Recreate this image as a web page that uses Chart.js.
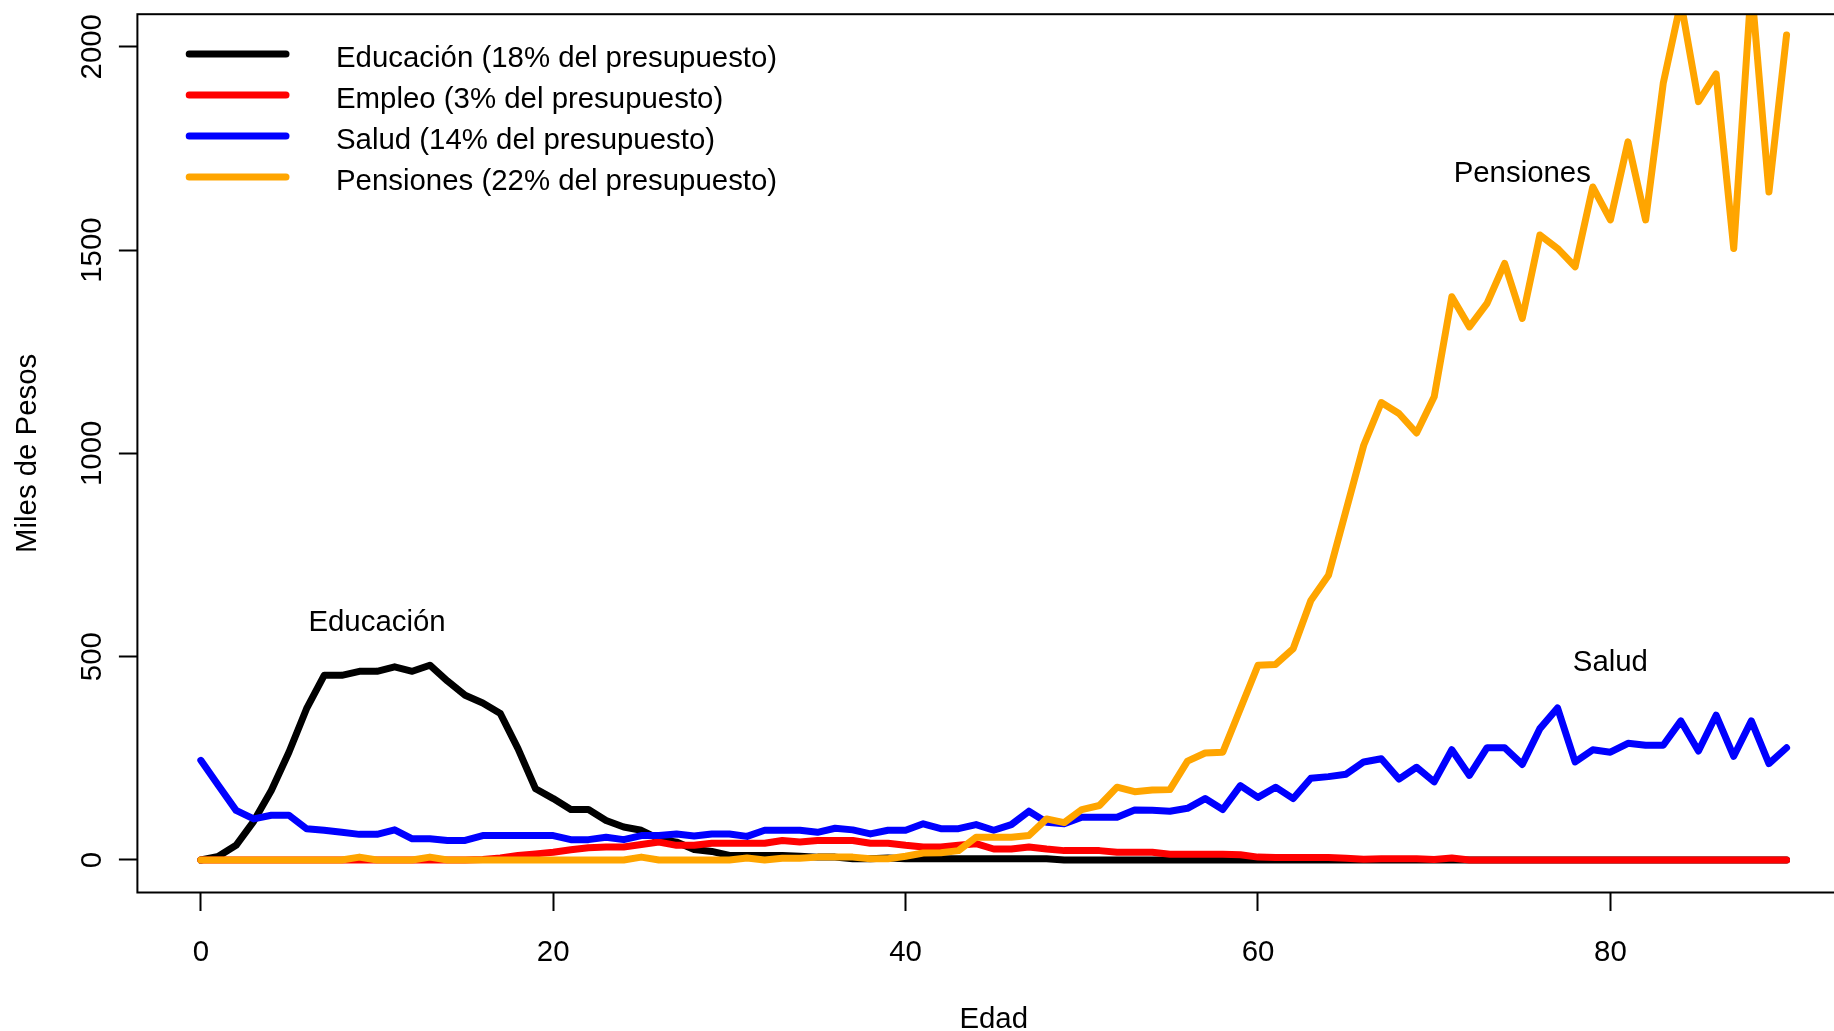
<!DOCTYPE html>
<html><head><meta charset="utf-8">
<script src="https://cdn.jsdelivr.net/npm/chart.js@4"></script>
<style>
html,body{margin:0;padding:0;background:#fff;overflow:hidden;width:1834px;height:1031px}
#wrap{position:absolute;left:0;top:0;width:1860px;height:1031px}
</style>
</head><body><div id="wrap"><canvas id="c" width="1860" height="1031"></canvas></div>
<script>
// ---- data ----
const ages = [0,1,2,3,4,5,6,7,8,9,10,11,12,13,14,15,16,17,18,19,20,21,22,23,24,25,26,27,28,29,30,
  31,32,33,34,35,36,37,38,39,40,41,42,43,44,45,46,47,48,49,50,51,52,53,54,55,56,57,58,59,60,
  61,62,63,64,65,66,67,68,69,70,71,72,73,74,75,76,77,78,79,80,81,82,83,84,85,86,87,88,89,90];

const educacion = [0,9,36,95,171,265,372,454,454,464,464,475,464,479,440,405,386,360,274,175,151,
  124,124,97,81,73,52,44,26,21,11,11,11,11,9,7,7,3,3,5,3,3,3,3,3,3,3,3,3,0,0,
  0,0,0,0,0,0,0,0,0,0,0,0,0,0,0,0,0,0,0,0,0,0,0,0,0,0,0,0,0,0,0,0,0,0,0,0,0,0,0,0];

const empleo = [0,0,0,0,0,0,0,0,0,0,0,0,0,0,0,0,1,5,11,15,19,25,30,32,32,38,44,36,36,41,41,
  41,41,48,44,48,48,48,41,41,36,32,32,36,40,27,27,32,27,23,23,23,19,19,19,14,14,14,14,13,7,
  6,6,6,6,4,2,3,3,3,1,5,0,0,0,0,0,0,0,0,0,0,0,0,0,0,0,0,0,0,0];

const salud = [245,183,122,101,110,110,77,73,68,63,63,74,52,52,48,48,60,60,60,60,60,50,50,56,50,60,
  60,64,59,64,64,58,73,73,73,68,78,74,64,73,73,89,77,77,87,73,87,120,93,89,105,105,105,123,122,120,
  127,151,124,183,154,179,151,201,205,211,241,249,199,228,192,271,208,276,276,235,323,374,241,271,
  265,287,282,282,342,268,356,255,342,237,276];

const pensiones = [0,0,0,0,0,0,0,0,0,7,0,0,0,7,0,0,0,0,0,0,0,0,0,0,0,7,0,0,0,0,0,
  5,0,4,4,7,7,7,3,3,9,17,18,23,56,56,56,60,101,92,124,134,179,168,172,173,243,263,265,372,479,
  481,520,638,700,860,1020,1125,1098,1050,1139,1385,1311,1369,1467,1332,1537,1504,1459,1655,1574,
  1766,1574,1910,2110,1865,1933,1504,2150,1643,2029];

const seriesNames = ['Educación (18% del presupuesto)','Empleo (3% del presupuesto)',
  'Salud (14% del presupuesto)','Pensiones (22% del presupuesto)'];
const seriesColors = ['#000000','#FF0000','#0000FF','#FFA500'];

const xTickValues = [0,20,40,60,80];
const xTickLabels = ['0','20','40','60','80'];
const yTickValues = [0,500,1000,1500,2000];
const yTickLabels = ['0','500','1000','1500','2000'];

const annotText = ['Educación','Pensiones','Salud'];
const annotX = [10,75,80];
const annotY = [584,1687,485];

const xTitle = 'Edad';
const yTitle = 'Miles de Pesos';
// ---------------------------------------

const FONT = '"Liberation Sans", Arial, Helvetica, sans-serif';
const FS = 29.4;
const LW = 7;

function pts(vals){ return ages.map((a,i)=>({x:a, y:vals[i]})); }
const allSeries = [educacion, empleo, salud, pensiones];

const datasets = allSeries.map((s,i)=>({
  label: seriesNames[i],
  data: pts(s),
  borderColor: seriesColors[i],
  backgroundColor: seriesColors[i],
  borderWidth: LW,
  pointRadius: 0,
  pointHoverRadius: 0,
  tension: 0,
  fill: false,
  borderJoinStyle: 'round',
  borderCapStyle: 'round',
  clip: 0,
  order: 4 - i
}));

const framePlugin = {
  id: 'frame',
  afterDatasetsDraw(chart){
    const {ctx, chartArea:a} = chart;
    ctx.save();
    ctx.strokeStyle = '#000';
    ctx.lineWidth = 2;
    ctx.strokeRect(a.left, a.top, a.right - a.left, a.bottom - a.top);
    ctx.restore();
  }
};

const annotPlugin = {
  id: 'annot',
  afterDatasetsDraw(chart){
    const {ctx, scales} = chart;
    ctx.save();
    ctx.font = FS + 'px ' + FONT;
    ctx.fillStyle = '#000';
    ctx.textAlign = 'center';
    ctx.textBaseline = 'middle';
    annotText.forEach((t,i)=>{
      ctx.fillText(t, scales.x.getPixelForValue(annotX[i]), scales.y.getPixelForValue(annotY[i]));
    });
    ctx.restore();
  }
};

const legendPlugin = {
  id: 'rlegend',
  afterDatasetsDraw(chart){
    const {ctx} = chart;
    ctx.save();
    ctx.font = FS + 'px ' + FONT;
    ctx.textAlign = 'left';
    ctx.textBaseline = 'middle';
    chart.data.datasets.forEach((d,i)=>{
      const yl = 54 + 41*i;
      ctx.strokeStyle = d.borderColor;
      ctx.lineWidth = d.borderWidth;
      ctx.lineCap = 'round';
      ctx.beginPath();
      ctx.moveTo(189.2, yl);
      ctx.lineTo(286, yl);
      ctx.stroke();
      ctx.fillStyle = '#000';
      ctx.fillText(d.label, 336, yl + 5);
    });
    ctx.restore();
  }
};

new Chart(document.getElementById('c'), {
  type: 'line',
  data: { datasets },
  options: {
    responsive: false,
    animation: false,
    devicePixelRatio: 1,
    layout: { padding: { left: 0, top: 14.2, right: 10, bottom: 0 } },
    plugins: { legend: { display: false }, tooltip: { enabled: false } },
    events: [],
    scales: {
      x: {
        type: 'linear',
        min: -3.6, max: 93.6,
        afterFit(s){ s.height = 138.5; },
        afterBuildTicks(s){ s.ticks = xTickValues.map(v=>({value:v})); },
        grid: { display: true, drawOnChartArea: false, drawTicks: true, tickLength: 18.5,
                tickWidth: 2, tickColor: '#000', color: '#000' },
        border: { display: false },
        ticks: {
          autoSkip: false, maxRotation: 0, minRotation: 0, padding: 24.2, color: '#000',
          font: { family: FONT, size: FS },
          callback(v){ const k = xTickValues.indexOf(v); return k >= 0 ? xTickLabels[k] : ''; }
        },
        title: { display: true, text: xTitle, color: '#000', font: { family: FONT, size: FS },
                 padding: { top: 0, bottom: -6.7 } }
      },
      y: {
        type: 'linear',
        min: -80, max: 2080,
        afterFit(s){ s.width = 137.4; },
        afterBuildTicks(s){ s.ticks = yTickValues.map(v=>({value:v})); },
        grid: { display: true, drawOnChartArea: false, drawTicks: true, tickLength: 18.5,
                tickWidth: 2, tickColor: '#000', color: '#000' },
        border: { display: false },
        ticks: {
          autoSkip: false, minRotation: 90, maxRotation: 90, crossAlign: 'center',
          padding: -6.85, color: '#000', font: { family: FONT, size: FS },
          callback(v){ const k = yTickValues.indexOf(v); return k >= 0 ? yTickLabels[k] : ''; }
        },
        title: { display: true, text: yTitle, color: '#000', font: { family: FONT, size: FS },
                 padding: { top: 10.1, bottom: 0 } }
      }
    }
  },
  plugins: [framePlugin, annotPlugin, legendPlugin]
});
</script>
</body></html>
